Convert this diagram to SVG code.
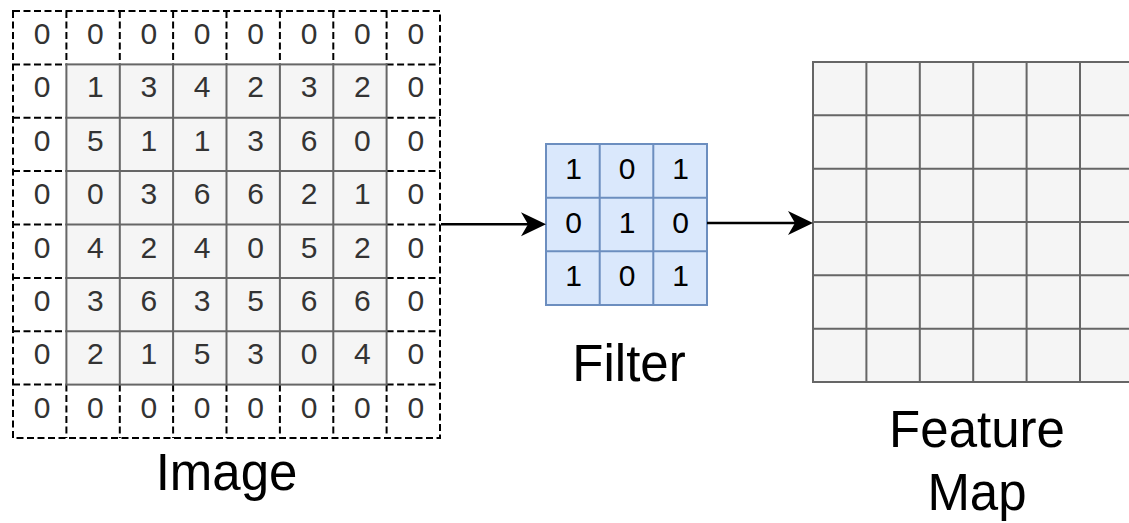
<svg xmlns="http://www.w3.org/2000/svg" width="1129" height="523" viewBox="0 0 1129 523">
<style>
.bg{fill:#ffffff}
.dash{fill:none;stroke:#000;stroke-width:2;stroke-dasharray:7 3.5}
.inner{fill:#f5f5f5;stroke:#666;stroke-width:2}
.ig{fill:none;stroke:#666;stroke-width:2}
.flt{fill:#dae8fc;stroke:#6c8ebf;stroke-width:2}
.fg{fill:none;stroke:#6c8ebf;stroke-width:2}
.num{font-family:"Liberation Sans",Arial,sans-serif;font-size:30px;fill:#333;text-anchor:middle}
.fnum{font-family:"Liberation Sans",Arial,sans-serif;font-size:30px;fill:#000;text-anchor:middle}
.lbl{font-family:"Liberation Sans",Arial,sans-serif;font-size:51px;fill:#000;text-anchor:middle}
.edge{fill:none;stroke:#000;stroke-width:2.6}
</style>
<defs>
<marker id="arr" markerUnits="userSpaceOnUse" markerWidth="30" markerHeight="30" refX="19" refY="12" orient="auto">
<path d="M25,12 L0,0 L7,12 L0,24 Z" fill="#000"/>
</marker>
</defs>
<rect class="bg" x="0" y="0" width="1129" height="523"/>
<g id="image">
<rect x="13" y="11" width="427" height="427" fill="#fff"/>
<path class="dash" d="M13,11H440V438H13Z M66.4,11V64.4 M119.8,11V64.4 M173.1,11V64.4 M226.5,11V64.4 M279.9,11V64.4 M333.3,11V64.4 M386.6,11V64.4 M66.4,384.6V438 M119.8,384.6V438 M173.1,384.6V438 M226.5,384.6V438 M279.9,384.6V438 M333.3,384.6V438 M386.6,384.6V438 M13,64.4H66.4 M13,117.8H66.4 M13,171.1H66.4 M13,224.5H66.4 M13,277.9H66.4 M13,331.3H66.4 M13,384.6H66.4 M386.6,64.4H440 M386.6,117.8H440 M386.6,171.1H440 M386.6,224.5H440 M386.6,277.9H440 M386.6,331.3H440 M386.6,384.6H440"/>
<rect class="inner" x="66.4" y="64.4" width="320.2" height="320.2"/>
<path class="ig" d="M119.8,64.4V384.6 M173.1,64.4V384.6 M226.5,64.4V384.6 M279.9,64.4V384.6 M333.3,64.4V384.6 M66.4,117.8H386.6 M66.4,171.1H386.6 M66.4,224.5H386.6 M66.4,277.9H386.6 M66.4,331.3H386.6"/>
<text class="num" y="44"><tspan x="42">0</tspan><tspan x="95.4">0</tspan><tspan x="148.8">0</tspan><tspan x="202.2">0</tspan><tspan x="255.6">0</tspan><tspan x="309">0</tspan><tspan x="362.4">0</tspan><tspan x="415.8">0</tspan></text>
<text class="num" y="97.4"><tspan x="42">0</tspan><tspan x="95.4">1</tspan><tspan x="148.8">3</tspan><tspan x="202.2">4</tspan><tspan x="255.6">2</tspan><tspan x="309">3</tspan><tspan x="362.4">2</tspan><tspan x="415.8">0</tspan></text>
<text class="num" y="150.8"><tspan x="42">0</tspan><tspan x="95.4">5</tspan><tspan x="148.8">1</tspan><tspan x="202.2">1</tspan><tspan x="255.6">3</tspan><tspan x="309">6</tspan><tspan x="362.4">0</tspan><tspan x="415.8">0</tspan></text>
<text class="num" y="204.2"><tspan x="42">0</tspan><tspan x="95.4">0</tspan><tspan x="148.8">3</tspan><tspan x="202.2">6</tspan><tspan x="255.6">6</tspan><tspan x="309">2</tspan><tspan x="362.4">1</tspan><tspan x="415.8">0</tspan></text>
<text class="num" y="257.6"><tspan x="42">0</tspan><tspan x="95.4">4</tspan><tspan x="148.8">2</tspan><tspan x="202.2">4</tspan><tspan x="255.6">0</tspan><tspan x="309">5</tspan><tspan x="362.4">2</tspan><tspan x="415.8">0</tspan></text>
<text class="num" y="311"><tspan x="42">0</tspan><tspan x="95.4">3</tspan><tspan x="148.8">6</tspan><tspan x="202.2">3</tspan><tspan x="255.6">5</tspan><tspan x="309">6</tspan><tspan x="362.4">6</tspan><tspan x="415.8">0</tspan></text>
<text class="num" y="364.4"><tspan x="42">0</tspan><tspan x="95.4">2</tspan><tspan x="148.8">1</tspan><tspan x="202.2">5</tspan><tspan x="255.6">3</tspan><tspan x="309">0</tspan><tspan x="362.4">4</tspan><tspan x="415.8">0</tspan></text>
<text class="num" y="417.8"><tspan x="42">0</tspan><tspan x="95.4">0</tspan><tspan x="148.8">0</tspan><tspan x="202.2">0</tspan><tspan x="255.6">0</tspan><tspan x="309">0</tspan><tspan x="362.4">0</tspan><tspan x="415.8">0</tspan></text>
<text class="lbl" x="226.5" y="490">Image</text>
</g>
<g id="filter">
<rect class="flt" x="546" y="144" width="161" height="161"/>
<path class="fg" d="M599.7,144V305 M653.3,144V305 M546,197.7H707 M546,251.3H707"/>
<text class="fnum" y="179"><tspan x="573.5">1</tspan><tspan x="627">0</tspan><tspan x="680.5">1</tspan></text>
<text class="fnum" y="232.7"><tspan x="573.5">0</tspan><tspan x="627">1</tspan><tspan x="680.5">0</tspan></text>
<text class="fnum" y="286.4"><tspan x="573.5">1</tspan><tspan x="627">0</tspan><tspan x="680.5">1</tspan></text>
<text class="lbl" x="629" y="381">Filter</text>
</g>
<g id="feature-map">
<rect class="inner" x="813" y="62" width="320.4" height="320"/>
<path class="ig" d="M866.4,62V382 M919.8,62V382 M973.2,62V382 M1026.6,62V382 M1080,62V382 M813,115.3H1133.4 M813,168.7H1133.4 M813,222H1133.4 M813,275.3H1133.4 M813,328.7H1133.4"/>
<text class="lbl" x="977" y="447">Feature</text>
<text class="lbl" x="977" y="510">Map</text>
</g>
<g id="connectors">
<path class="edge" d="M441,224.3H540" marker-end="url(#arr)"/>
<path class="edge" d="M707,223H807" marker-end="url(#arr)"/>
</g>
</svg>
